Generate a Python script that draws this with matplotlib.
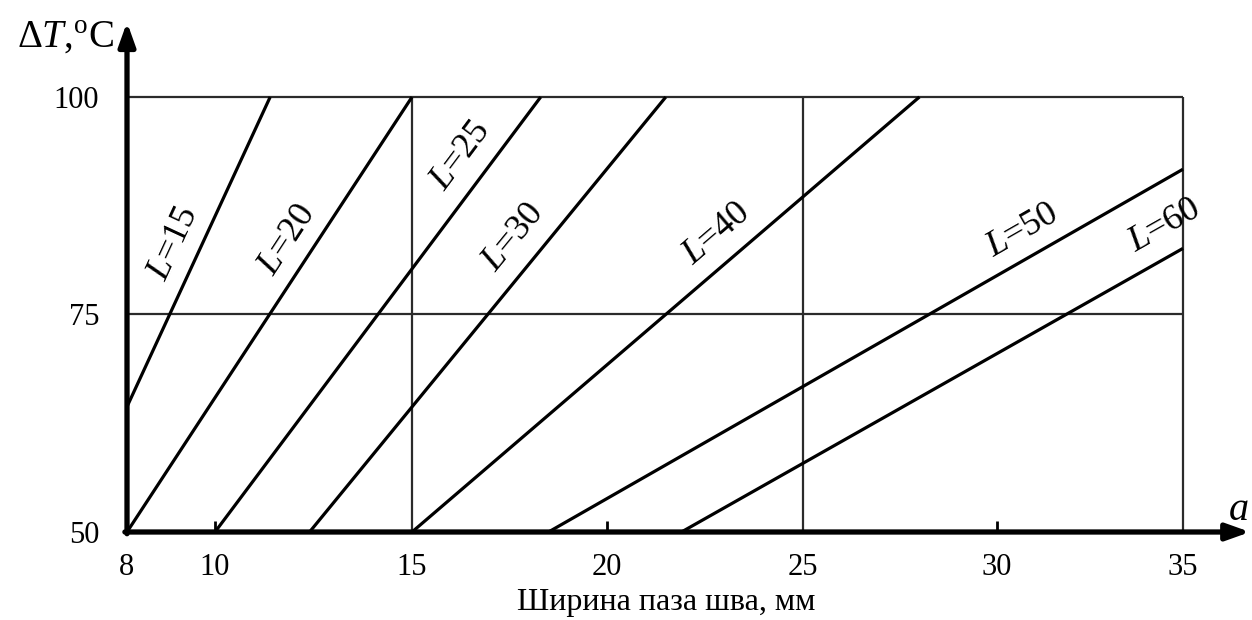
import numpy as np
import matplotlib
matplotlib.use('Agg')
import matplotlib.pyplot as plt

plt.rcParams['font.family'] = 'Liberation Serif'
plt.rcParams['mathtext.fontset'] = 'custom'
plt.rcParams['mathtext.rm'] = 'Liberation Serif'
plt.rcParams['mathtext.it'] = 'Liberation Serif:italic'

# nomogram lines: L value, start point and end point (a in mm, dT in deg C)
L_values = [15, 20, 25, 30, 40, 50, 60]
a_start = [8, 8, 10, 12.4, 15, 18.5, 21.9]
dT_start = [64.4, 50, 50, 50, 50, 50, 50]
a_end = [11.4, 15, 18.3, 21.5, 28, 35, 35]
dT_end = [100, 100, 100, 100, 100, 91.7, 82.6]
# height where each "L=.." label sits
label_dT = [81.8, 81.8, 91.3, 81.8, 81.8, 81.8, 82.3]

x_ticks = [8, 10, 15, 20, 25, 30, 35]
y_ticks = [50, 75, 100]
grid_x = [15, 25, 35]
grid_y = [75, 100]
small_ticks = [10, 20, 30]

# the drawn x axis is not quite uniform, so map ticks to where they sit
x_tick_px = [127, 215, 412, 607, 803, 997, 1183]

fig = plt.figure(figsize=(12.52, 6.2), dpi=100)
ax = fig.add_axes([127/1252, (620-532)/620, (1183-127)/1252, (532-97)/620])

ax.set_xscale('function', functions=(lambda x: np.interp(x, x_ticks, x_tick_px),
                                     lambda p: np.interp(p, x_tick_px, x_ticks)))
ax.set_xlim(8, 35)
ax.set_ylim(50, 100)

for s in ax.spines.values():
    s.set_visible(False)

# thin frame / grid
ax.hlines(grid_y, 8, 35, color='#2b2b2b', lw=1.6, clip_on=False, zorder=1)
ax.vlines(grid_x, 50, 100, color='#2b2b2b', lw=1.6, clip_on=False, zorder=1)

# the L lines
for i in range(len(L_values)):
    ax.plot([a_start[i], a_end[i]], [dT_start[i], dT_end[i]], color='k', lw=2.3,
            solid_capstyle='butt', clip_on=False, zorder=3)

# labels along the lines
for i in range(len(L_values)):
    y = label_dT[i]
    x = a_start[i] + (y - dT_start[i])*(a_end[i]-a_start[i])/(dT_end[i]-dT_start[i])
    p0 = ax.transData.transform((a_start[i], dT_start[i]))
    p1 = ax.transData.transform((a_end[i], dT_end[i]))
    ang = np.degrees(np.arctan2(p1[1]-p0[1], p1[0]-p0[0]))
    off = 29
    dx = -off*np.sin(np.radians(ang))
    dy = off*np.cos(np.radians(ang))
    ax.annotate('$L$=%d' % L_values[i], xy=(x, y), xytext=(dx, dy),
                textcoords='offset pixels', rotation=ang, rotation_mode='anchor',
                ha='center', va='center', fontsize=26)

# axes with arrows
arr = dict(arrowstyle='-|>,head_length=0.7,head_width=0.25', lw=3.8, color='k',
           shrinkA=0, shrinkB=0, mutation_scale=20)
ax.annotate('', xy=(1.0635, 0), xytext=(-0.002, 0), xycoords='axes fraction', arrowprops=arr)
ax.annotate('', xy=(0, 1.172), xytext=(0, -0.004), xycoords='axes fraction', arrowprops=arr)

ax.set_xticks(x_ticks)
ax.set_xticklabels([str(t) for t in x_ticks])
ax.set_yticks(y_ticks)
ax.set_yticklabels([str(t) for t in y_ticks])
ax.tick_params(axis='both', which='major', length=0, labelsize=22)
ax.tick_params(axis='x', which='major', pad=15)
ax.tick_params(axis='y', which='major', pad=20)
ax.xaxis.remove_overlapping_locs = False
ax.set_xticks(small_ticks, minor=True)
ax.tick_params(axis='x', which='minor', direction='in', length=8, width=2,
               color='k', labelbottom=False)

ax.text(-0.012, 1.136, r'$\Delta T$,$^{\mathrm{o}}$C', transform=ax.transAxes,
        ha='right', va='center', fontsize=28)
ax.text(1.052, 0.05, '$a$', transform=ax.transAxes, ha='center', va='center', fontsize=29)
ax.text(0.511, -0.161, 'Ширина паза шва, мм', transform=ax.transAxes,
        ha='center', va='center', fontsize=23)

fig.savefig('out.png', dpi=100)
